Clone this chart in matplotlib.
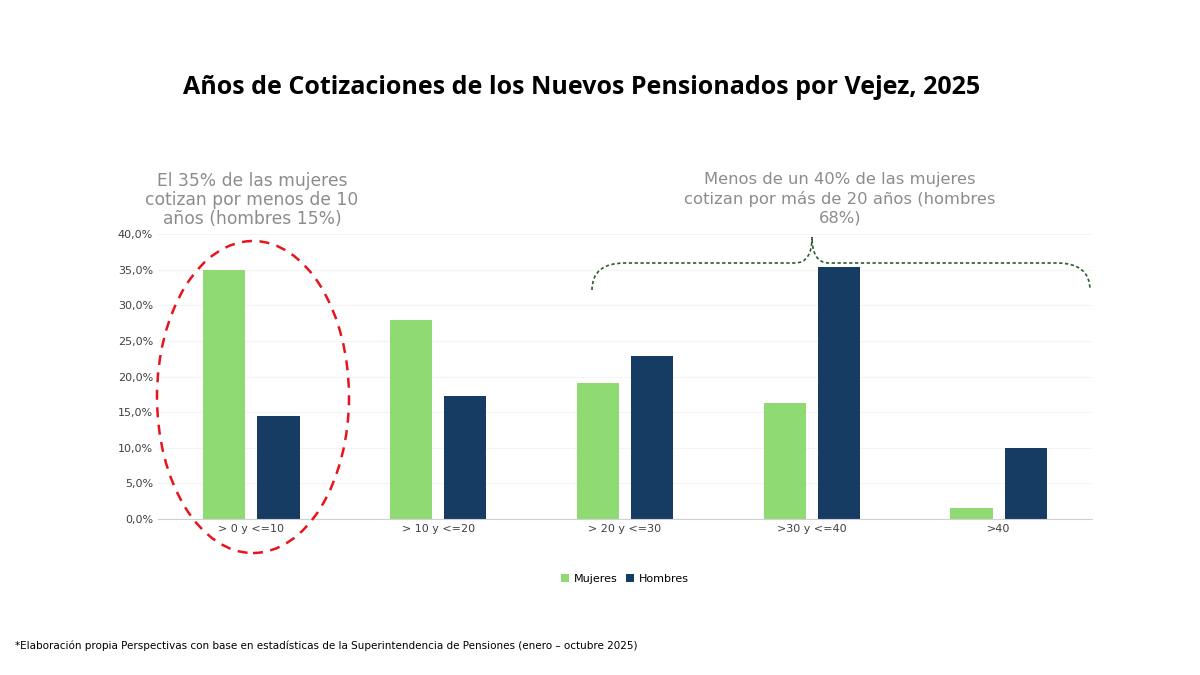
import matplotlib
matplotlib.use("Agg")
import matplotlib.pyplot as plt
from matplotlib.patches import Ellipse, PathPatch
from matplotlib.path import Path
import numpy as np

categories = ["> 0 y <=10", "> 10 y <=20", "> 20 y <=30", ">30 y <=40", ">40"]
mujeres = [35.0, 27.9, 19.1, 16.3, 1.5]
hombres = [14.5, 17.3, 22.9, 35.3, 10.0]

W, H = 1200, 675
fig = plt.figure(figsize=(12, 6.75), dpi=100)
ax = fig.add_axes([158/W, 1-519/H, (1092-158)/W, (519-234)/H])
x = np.arange(len(categories))
bw = 0.225
ax.bar(x - 0.0325 - bw/2, mujeres, bw, color="#8fda72", label="Mujeres")
ax.bar(x + 0.0325 + bw/2, hombres, bw, color="#173c63", label="Hombres")
ax.set_xlim(-0.5, 4.5)
ax.set_ylim(0, 40)
ax.set_yticks(np.arange(0, 41, 5))
ax.set_yticklabels([f"{v:.1f}%".replace(".", ",") for v in np.arange(0, 41, 5)], fontsize=8, color="#404040")
ax.set_xticks(x)
ax.set_xticklabels(categories, fontsize=8, color="#404040")
ax.tick_params(length=0)
ax.yaxis.grid(True, color="#f4f4f4", lw=0.8)
ax.set_axisbelow(True)
for s in ["top", "right", "left"]:
    ax.spines[s].set_visible(False)
ax.spines["bottom"].set_color("#d0d0d0")
ax.legend(loc="center", bbox_to_anchor=(0.5, -0.21), ncol=2, frameon=False, fontsize=8,
          handlelength=0.7, handleheight=0.7, columnspacing=0.8, handletextpad=0.4)

fig.text(0.485, 1-87/H, "Años de Cotizaciones de los Nuevos Pensionados por Vejez, 2025",
         ha="center", va="center", fontsize=18, fontweight="bold", family="Open Sans")
fig.text(252/W, 1-200/H, "El 35% de las mujeres\ncotizan por menos de 10\naños (hombres 15%)",
         ha="center", va="center", fontsize=12.3, color="#8c8c8c", linespacing=1.1,
         bbox=dict(facecolor="white", edgecolor="none", pad=1))
fig.text(840/W, 1-199/H, "Menos de un 40% de las mujeres\ncotizan por más de 20 años (hombres\n68%)",
         ha="center", va="center", fontsize=11.8, color="#8c8c8c", linespacing=1.3)
fig.text(15/W, 1-646/H, "*Elaboración propia Perspectivas con base en estadísticas de la Superintendencia de Pensiones (enero – octubre 2025)",
         ha="left", va="center", fontsize=7.5, color="#000000")

ell = Ellipse((253/W, 1-397/H), 192/W, 312/H, transform=fig.transFigure, fill=False,
              edgecolor="#e8141c", lw=1.8, ls=(0, (4, 3)))
fig.add_artist(ell)

def p(px, py):
    return (px/W, 1-py/H)
verts = [p(592, 290), p(592, 263), p(625, 263),
         p(795, 263), p(812, 263), p(812, 237),
         p(812, 263), p(829, 263),
         p(1057, 263), p(1090, 263), p(1090, 290)]
codes = [Path.MOVETO, Path.CURVE3, Path.CURVE3,
         Path.LINETO, Path.CURVE3, Path.CURVE3,
         Path.CURVE3, Path.CURVE3,
         Path.LINETO, Path.CURVE3, Path.CURVE3]
fig.add_artist(PathPatch(Path(verts, codes), transform=fig.transFigure, fill=False,
                         edgecolor="#2e5e2e", lw=1.2, ls=(0, (2, 1.5))))

fig.savefig("out.png", dpi=100, facecolor="white")
